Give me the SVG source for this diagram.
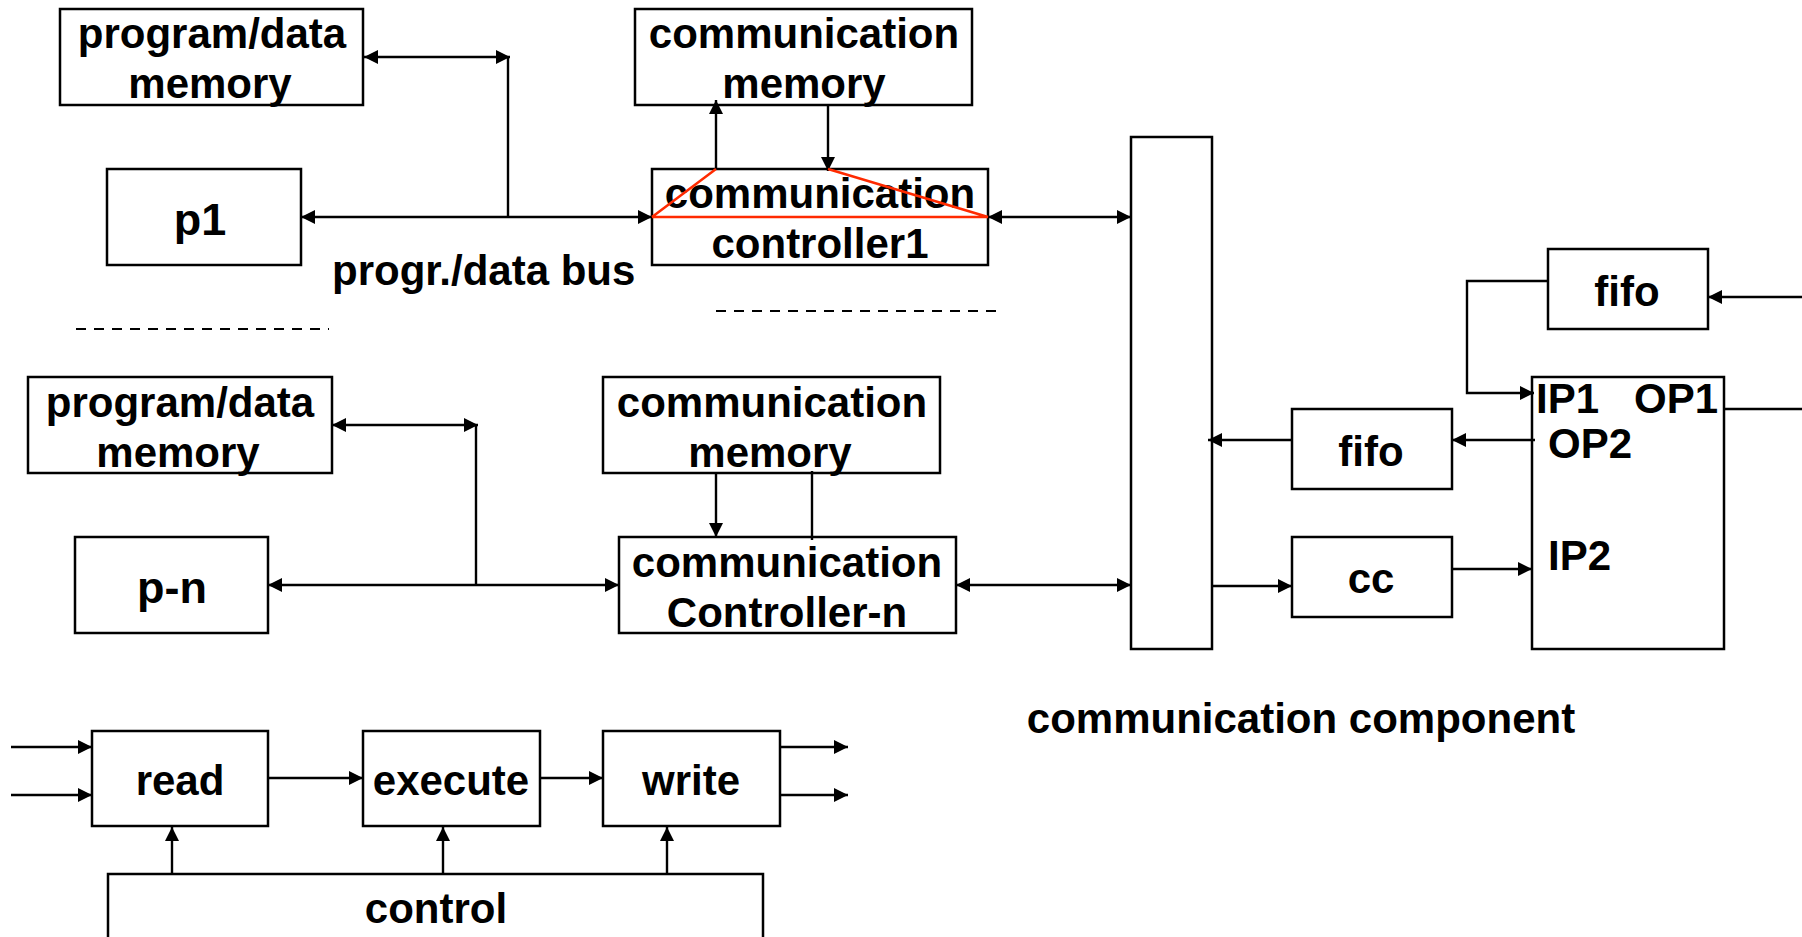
<svg xmlns="http://www.w3.org/2000/svg" width="1802" height="937" viewBox="0 0 1802 937">
<style>
.box{fill:#fff;stroke:#000;stroke-width:2.5}
.t{font-family:"Liberation Sans",Arial,Helvetica,sans-serif;font-weight:bold;font-size:42px;fill:#000}
.c{text-anchor:middle}
.big{font-size:45px}
.ln{fill:none;stroke:#000;stroke-width:2.4}
.a{marker-end:url(#ah)}
.aa{marker-start:url(#ah);marker-end:url(#ah)}
.red{fill:none;stroke:#ff2a00;stroke-width:2.5}
.dash{fill:none;stroke:#000;stroke-width:2;stroke-dasharray:10 8}
</style>
<defs>
<marker id="ah" markerUnits="userSpaceOnUse" markerWidth="16" markerHeight="16" refX="14" refY="7" orient="auto-start-reverse">
<path d="M0,0 L14,7 L0,14 z" fill="#000"/>
</marker>
</defs>
<rect width="1802" height="937" fill="#fff"/>

<g id="pdm1">
<rect class="box" x="60" y="9" width="303" height="96"/>
<text class="t c" x="212" y="48">program/data</text>
<text class="t c" x="210" y="98">memory</text>
</g>
<g id="p1">
<rect class="box" x="107" y="169" width="194" height="96"/>
<text class="t c big" x="200" y="235">p1</text>
</g>
<g id="cm1">
<rect class="box" x="635" y="9" width="337" height="96"/>
<text class="t c" x="804" y="48">communication</text>
<text class="t c" x="804" y="98">memory</text>
</g>
<g id="cc1">
<rect class="box" x="652" y="169" width="336" height="96"/>
<text class="t c" x="820" y="208">communication</text>
<text class="t c" x="820" y="258">controller1</text>
</g>
<g id="bus1label">
<text class="t" x="332" y="285">progr./data bus</text>
</g>

<g id="pdm2">
<rect class="box" x="28" y="377" width="304" height="96"/>
<text class="t c" x="180" y="417">program/data</text>
<text class="t c" x="178" y="467">memory</text>
</g>
<g id="pn">
<rect class="box" x="75" y="537" width="193" height="96"/>
<text class="t c big" x="172" y="603">p-n</text>
</g>
<g id="cm2">
<rect class="box" x="603" y="377" width="337" height="96"/>
<text class="t c" x="772" y="417">communication</text>
<text class="t c" x="770" y="467">memory</text>
</g>
<g id="ccn">
<rect class="box" x="619" y="537" width="337" height="96"/>
<text class="t c" x="787" y="577">communication</text>
<text class="t c" x="787" y="627">Controller-n</text>
</g>

<g id="commbus">
<rect class="box" x="1131" y="137" width="81" height="512"/>
</g>
<g id="fifo1">
<rect class="box" x="1548" y="249" width="160" height="80"/>
<text class="t c" x="1627" y="306">fifo</text>
</g>
<g id="fifo2">
<rect class="box" x="1292" y="409" width="160" height="80"/>
<text class="t c" x="1371" y="466">fifo</text>
</g>
<g id="cc">
<rect class="box" x="1292" y="537" width="160" height="80"/>
<text class="t c" x="1371" y="593">cc</text>
</g>
<g id="ipbox">
<rect class="box" x="1532" y="377" width="192" height="272"/>
<text class="t" x="1536" y="413">IP1</text>
<text class="t" x="1634" y="413">OP1</text>
<text class="t" x="1548" y="458">OP2</text>
<text class="t" x="1548" y="570">IP2</text>
</g>
<g id="commlabel">
<text class="t c" x="1301" y="733">communication component</text>
</g>

<g id="read">
<rect class="box" x="92" y="731" width="176" height="95"/>
<text class="t c" x="180" y="795">read</text>
</g>
<g id="execute">
<rect class="box" x="363" y="731" width="177" height="95"/>
<text class="t c" x="451" y="795">execute</text>
</g>
<g id="write">
<rect class="box" x="603" y="731" width="177" height="95"/>
<text class="t c" x="691" y="795">write</text>
</g>
<g id="control">
<rect class="box" x="108" y="874" width="655" height="90"/>
<text class="t c" x="436" y="923">control</text>
</g>

<g id="connectors">
<line class="ln aa" x1="364" y1="57" x2="510" y2="57"/>
<line class="ln" x1="508" y1="57" x2="508" y2="217"/>
<line class="ln aa" x1="301" y1="217" x2="652" y2="217"/>
<line class="ln a" x1="716" y1="169" x2="716" y2="100"/>
<line class="ln a" x1="828" y1="105" x2="828" y2="171"/>
<line class="ln aa" x1="988" y1="217" x2="1131" y2="217"/>
<path class="red" d="M652,217 L716,169 M828,169 L988,217 M652,217 L988,217"/>
<line class="dash" x1="76" y1="329" x2="329" y2="329"/>
<line class="dash" x1="716" y1="311" x2="1003" y2="311"/>
<line class="ln aa" x1="332" y1="425" x2="478" y2="425"/>
<line class="ln" x1="476" y1="425" x2="476" y2="586"/>
<line class="ln aa" x1="268" y1="585" x2="619" y2="585"/>
<line class="ln a" x1="716" y1="473" x2="716" y2="537"/>
<line class="ln" x1="812" y1="471" x2="812" y2="540"/>
<line class="ln aa" x1="956" y1="585" x2="1131" y2="585"/>
<line class="ln a" x1="1802" y1="297" x2="1708" y2="297"/>
<polyline class="ln a" points="1548,281 1467,281 1467,393 1534,393"/>
<line class="ln" x1="1724" y1="409" x2="1802" y2="409"/>
<line class="ln a" x1="1535" y1="440" x2="1452" y2="440"/>
<line class="ln a" x1="1292" y1="440" x2="1208" y2="440"/>
<line class="ln a" x1="1212" y1="586" x2="1292" y2="586"/>
<line class="ln a" x1="1452" y1="569" x2="1532" y2="569"/>
<line class="ln a" x1="11" y1="747" x2="92" y2="747"/>
<line class="ln a" x1="11" y1="795" x2="92" y2="795"/>
<line class="ln a" x1="268" y1="778" x2="363" y2="778"/>
<line class="ln a" x1="540" y1="778" x2="603" y2="778"/>
<line class="ln a" x1="780" y1="747" x2="848" y2="747"/>
<line class="ln a" x1="780" y1="795" x2="848" y2="795"/>
<line class="ln a" x1="172" y1="874" x2="172" y2="827"/>
<line class="ln a" x1="443" y1="874" x2="443" y2="827"/>
<line class="ln a" x1="667" y1="874" x2="667" y2="827"/>
</g>
</svg>
